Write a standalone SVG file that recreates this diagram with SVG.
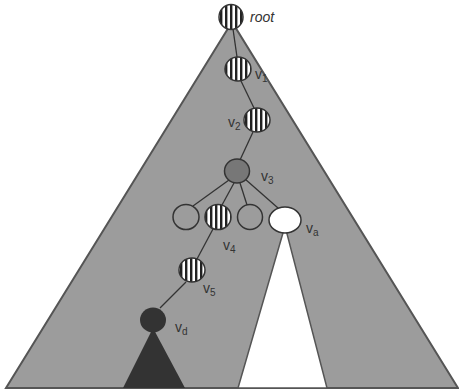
<svg xmlns="http://www.w3.org/2000/svg" width="459" height="392" viewBox="0 0 459 392">
<defs>
<pattern id="stripes" patternUnits="userSpaceOnUse" width="5" height="10">
<rect width="5" height="10" fill="#ffffff"/>
<rect width="2.4" height="10" fill="#222"/>
</pattern>
<style>
.edge{stroke:#333;stroke-width:1.3;fill:none}
.node{stroke:#333;stroke-width:1.5}
.striped{fill:url(#stripes)}
.plain{fill:#9c9c9c}
.lbl{font-family:"Liberation Sans",Arial,sans-serif;font-size:14px;fill:#333}
.sub{font-size:10px}
</style>
</defs>
<rect width="459" height="392" fill="#ffffff"/>
<g id="tree">
<polygon points="232,22 6,388 458,388" fill="#9c9c9c" stroke="#555" stroke-width="2"/>
</g>
<g id="subtree-a">
<polygon points="285,226 238,388 327,388" fill="#ffffff" stroke="#555" stroke-width="1.5"/>
</g>
<g id="subtree-d">
<polygon points="153,328 123,388 185,388" fill="#333"/>
</g>
<g id="connectors">
<line class="edge" x1="233" y1="29" x2="237" y2="57"/>
<line class="edge" x1="241" y1="81" x2="254" y2="108"/>
<line class="edge" x1="253" y1="132" x2="240" y2="160"/>
<line class="edge" x1="229" y1="180" x2="193" y2="206"/>
<line class="edge" x1="234" y1="183" x2="222" y2="205"/>
<line class="edge" x1="240" y1="183" x2="247" y2="205"/>
<line class="edge" x1="245" y1="179" x2="278" y2="208"/>
<line class="edge" x1="213" y1="229" x2="197" y2="259"/>
<line class="edge" x1="186" y1="282" x2="160" y2="308"/>
</g>
<g id="root">
<ellipse class="node striped" cx="231" cy="17" rx="12" ry="12.5"/>
<text class="lbl" x="250" y="22" font-style="italic" font-size="14">root</text>
</g>
<g id="v1">
<ellipse class="node striped" cx="238" cy="69" rx="13" ry="12"/>
<text class="lbl" x="255" y="79">v<tspan class="sub" dy="3">1</tspan></text>
</g>
<g id="v2">
<ellipse class="node striped" cx="257" cy="120" rx="13" ry="12"/>
<text class="lbl" x="228" y="127">v<tspan class="sub" dy="3">2</tspan></text>
</g>
<g id="v3">
<ellipse class="node" cx="237" cy="171" rx="12.5" ry="12" fill="#777"/>
<text class="lbl" x="261" y="181">v<tspan class="sub" dy="3">3</tspan></text>
</g>
<g id="c1">
<ellipse class="node plain" cx="186" cy="217" rx="13" ry="12.5"/>
</g>
<g id="v4">
<ellipse class="node striped" cx="218" cy="217" rx="13" ry="12.5"/>
<text class="lbl" x="223" y="250">v<tspan class="sub" dy="3">4</tspan></text>
</g>
<g id="c3">
<ellipse class="node plain" cx="250" cy="217" rx="12.5" ry="12.5"/>
</g>
<g id="va">
<ellipse class="node" cx="285" cy="220" rx="16" ry="13" fill="#ffffff"/>
<text class="lbl" x="306" y="233">v<tspan class="sub" dy="3">a</tspan></text>
</g>
<g id="v5">
<ellipse class="node striped" cx="192" cy="270" rx="13" ry="12"/>
<text class="lbl" x="203" y="293">v<tspan class="sub" dy="3">5</tspan></text>
</g>
<g id="vd">
<ellipse cx="153" cy="320" rx="13" ry="12.5" fill="#333"/>
<text class="lbl" x="175" y="332">v<tspan class="sub" dy="3">d</tspan></text>
</g>
</svg>
